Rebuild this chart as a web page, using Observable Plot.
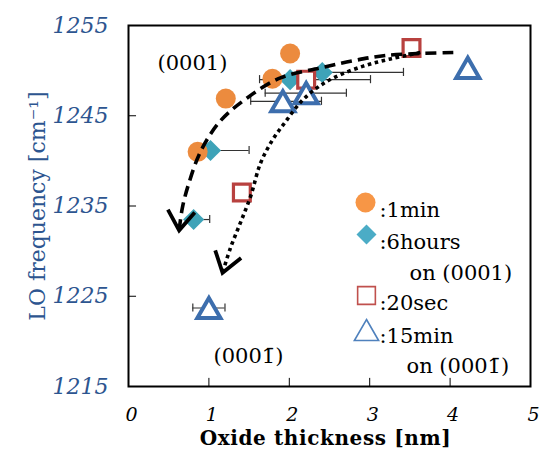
<!DOCTYPE html>
<html><head><meta charset="utf-8">
<script src="https://cdn.jsdelivr.net/npm/d3@7"></script>
<script src="https://cdn.jsdelivr.net/npm/@observablehq/plot@0.6"></script>
<style>body{margin:0;background:#fff}</style>
</head><body><div id="chart"></div>
<script>
// ---- data ----
const xTicks = [0, 1, 2, 3, 4, 5];
const yTicks = [1215, 1225, 1235, 1245, 1255];
const xInnerTicks = [1, 2, 3, 4];
const yInnerTicks = [1225, 1235, 1245];

// 1min (orange circles)
const min1X = [0.86, 1.21, 1.79, 2.01];
const min1Y = [1241.0, 1246.9, 1249.1, 1251.9];

// 6hours on (0001) (teal diamonds), horizontal error bars
const h6X  = [0.81, 1.02, 2.01, 2.41];
const h6Y  = [1233.5, 1241.15, 1249.0, 1249.8];
const h6Lo = [0.81, 1.02, 1.63, 2.41];
const h6Hi = [1.01, 1.50, 3.01, 3.42];

// 20sec (red squares)
const sec20X = [1.41, 2.21, 3.52];
const sec20Y = [1236.5, 1249.0, 1252.5];

// 15min on (000-1) (blue triangles), horizontal error bars
const min15X  = [1.00, 1.92, 2.21, 4.22];
const min15Y  = [1223.7, 1246.6, 1247.5, 1250.3];
const min15Lo = [0.80, 1.52, 1.70, 4.22];
const min15Hi = [1.20, 2.40, 2.71, 4.22];

// guide curves
const dashX = [4.04, 3.22, 2.80, 2.39, 1.89, 1.48, 1.14, 0.90, 0.75, 0.67, 0.63];
const dashY = [1252.0, 1251.7, 1251.1, 1250.3, 1249.2, 1247.0, 1244.4, 1241.1, 1237.5, 1234.8, 1232.3];
const dotX  = [3.63, 3.26, 2.92, 2.55, 2.33, 2.14, 1.95, 1.79, 1.64, 1.52, 1.39, 1.27, 1.17];
const dotY  = [1252.0, 1251.3, 1250.5, 1249.2, 1248.0, 1246.5, 1244.3, 1242.3, 1239.7, 1236.1, 1233.1, 1230.4, 1227.6];

const legendLabels = [":1min", ":6hours", "on (0001)", ":20sec", ":15min", "on (0001\u0304)"];
const faceLabels = ["(0001)", "(0001\u0304)"];
const xTitle = "Oxide thickness [nm]";
const yTitle = "LO frequency [cm\u207B\u00B9]";

// ---- tables ----
const pts = (X, Y, lo, hi) => X.map((x, i) => ({x, y: Y[i], lo: lo ? lo[i] : x, hi: hi ? hi[i] : x}));
const min1 = pts(min1X, min1Y);
const h6 = pts(h6X, h6Y, h6Lo, h6Hi);
const sec20 = pts(sec20X, sec20Y);
const min15 = pts(min15X, min15Y, min15Lo, min15Hi);
const dash = dashX.map((x, i) => ({x, y: dashY[i]}));
const dots = dotX.map((x, i) => ({x, y: dotY[i]}));
const errs = [...h6, ...min15].filter(d => d.hi > d.lo);
const caps = errs.flatMap(d => [d.lo < d.x ? {x: d.lo, y: d.y} : null, {x: d.hi, y: d.y}]).filter(Boolean);

const ORANGE = "#EC8B3E", TEAL = "#3EA3B8", RED = "#B8413F", BLUE = "#3D6EAD";
const TXTBLUE = "#2D5590";
const FONT = "DejaVu Serif";

const txt = (label, anchor, dx, dy, o = {}) => Plot.text([label], {
  text: d => d, frameAnchor: anchor, dx, dy, textAnchor: "start",
  fontSize: 21, fontFamily: FONT, fill: "black", ...o
});

const chart = Plot.plot({
  width: 541, height: 457,
  marginLeft: 128, marginRight: 11, marginTop: 25, marginBottom: 71,
  style: {fontFamily: FONT, background: "white"},
  x: {domain: [0, 5]},
  y: {domain: [1215, 1255]},
  marks: [
    // error bars
    Plot.ruleY(errs, {y: "y", x1: "lo", x2: "hi", stroke: "#333", strokeWidth: 1.2}),
    Plot.ruleX(caps, {x: "x", y1: d => d.y - 0.45, y2: d => d.y + 0.45, stroke: "#333", strokeWidth: 1.2}),
    // markers
    Plot.dot(h6, {x: "x", y: "y", symbol: "diamond2", r: 9.5, fill: TEAL}),
    Plot.dot(min1, {x: "x", y: "y", symbol: "circle", r: 10, fill: ORANGE}),
    Plot.dot(sec20, {x: "x", y: "y", symbol: "square", r: 9.5, fill: "white", stroke: RED, strokeWidth: 3.2}),
    Plot.dot(min15, {x: "x", y: "y", symbol: "triangle", r: 8.6, dy: 3.3, fill: "white", stroke: BLUE, strokeWidth: 4, strokeLinejoin: "miter"}),
    // guide curves
    Plot.line(dash, {x: "x", y: "y", curve: "catmull-rom", stroke: "black", strokeWidth: 3.6, strokeLinecap: "butt", strokeDasharray: "11 6", markerEnd: "arrow"}),
    Plot.line(dots, {x: "x", y: "y", curve: "catmull-rom", stroke: "black", strokeWidth: 3.6, strokeLinecap: "butt", strokeDasharray: "3.6 3.6", markerEnd: "arrow"}),
    // frame and inner ticks
    Plot.ruleY(yInnerTicks, {y: d => d, x1: 0, x2: 0.1, stroke: "black", strokeWidth: 1}),
    Plot.ruleX(xInnerTicks, {x: d => d, y1: 1215, y2: 1215.9, stroke: "black", strokeWidth: 1}),
    Plot.frame({stroke: "black", strokeWidth: 2}),
    // axes
    Plot.axisX({ticks: xTicks, tickSize: 0, tickPadding: 21, dx: 3, fontSize: 19, fontStyle: "italic", fontFamily: FONT, label: null, tickFormat: d => String(d)}),
    Plot.axisY({ticks: yTicks, tickSize: 0, tickPadding: 20, fontSize: 22, fontStyle: "italic", fontFamily: FONT, fill: TXTBLUE, label: null, tickFormat: d => String(d)}),
    txt(xTitle, "bottom", -4, 58, {textAnchor: "middle", fontWeight: "bold", fontSize: 20}),
    txt(yTitle, "left", -91, 0, {textAnchor: "middle", rotate: -90, fill: TXTBLUE, fontSize: 22}),
    // face annotations
    txt(faceLabels[0], "top-left", 29, 30),
    txt(faceLabels[1], "top-left", 85, 323),
    // legend
    Plot.dot([0], {frameAnchor: "top-left", dx: 237, dy: 177, symbol: "circle", r: 10, fill: "#F79646"}),
    Plot.dot([0], {frameAnchor: "top-left", dx: 238, dy: 209, symbol: "diamond2", r: 9, fill: "#4BACC6"}),
    Plot.dot([0], {frameAnchor: "top-left", dx: 238, dy: 270, symbol: "square", r: 10, fill: "white", stroke: "#C0504D", strokeWidth: 1.6}),
    Plot.dot([0], {frameAnchor: "top-left", dx: 238, dy: 308, symbol: "triangle", r: 9, fill: "white", stroke: "#4F81BD", strokeWidth: 1.6, strokeLinejoin: "miter"}),
    txt(legendLabels[0], "top-left", 251, 177),
    txt(legendLabels[1], "top-left", 251, 209),
    txt(legendLabels[2], "top-left", 281, 240),
    txt(legendLabels[3], "top-left", 251, 270),
    txt(legendLabels[4], "top-left", 251, 303),
    txt(legendLabels[5], "top-left", 278, 333)
  ]
});

// larger, open, solid chevron arrowheads as in the reference
d3.select(chart).selectAll("marker")
  .attr("markerWidth", 15).attr("markerHeight", 15)
  .attr("stroke-dasharray", "none")
  .attr("stroke-width", 0.7)
  .selectAll("path")
  .attr("d", "M-3.6,-2.5L0,0L-3.6,2.5")
  .attr("stroke-dasharray", "none").attr("stroke-linecap", "butt").attr("stroke-linejoin", "miter");

// widen the bold x title a little, as in the reference
d3.select(chart).selectAll("text").filter(function() { return this.textContent === xTitle; })
  .attr("letter-spacing", "0.6");

document.getElementById("chart").appendChild(chart);
</script>
</body></html>
